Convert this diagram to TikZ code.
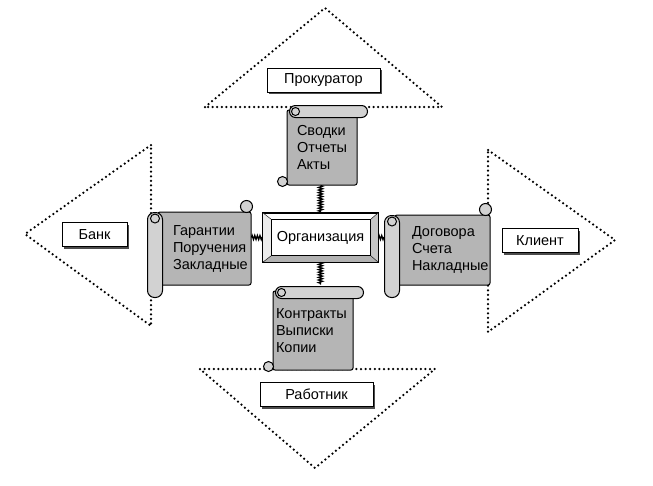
\documentclass[tikz,border=0pt]{standalone}
\usepackage{fontspec}
\setmainfont{Liberation Sans}
\usetikzlibrary{positioning,shadows,decorations.pathmorphing}
\hyphenpenalty=10000
\hbadness=10000
\hfuzz=40pt
\newcommand{\txtsize}{\fontsize{14.5}{17}\selectfont}
\tikzset{
  party/.style={draw, fill=white, line width=0.8pt, minimum height=24pt, font=\txtsize,
    drop shadow={shadow xshift=2.2pt, shadow yshift=-2.2pt, fill=black!70, opacity=1}},
  scroll/.style={draw, fill=gray!58, line width=1pt, rounded corners=2pt, align=left, font=\txtsize},
  roll/.style={draw, fill=gray!35, line width=1pt},
  tri/.style={line width=2.5pt, dash pattern=on 0pt off 4.6pt, line cap=round},
  coil/.style={line width=1.3pt, decorate, decoration={zigzag, segment length=2.6pt, amplitude=2pt}},
}
\begin{document}
\begin{tikzpicture}[x=1pt, y=-1pt]
  \useasboundingbox (0,0) rectangle (653,485);
  % dotted triangles
  \draw[tri] (205,107) -- (325,8) -- (442,107) -- cycle;
  \draw[tri] (151,145) -- (25,234) -- (151,326) -- cycle;
  \draw[tri] (488,150) -- (615,240) -- (488,332) -- cycle;
  \draw[tri] (200,369) -- (435,369) -- (315,468) -- cycle;
  % parties
  \node[party, minimum width=113pt] (prok) at (323.5,80) {Прокуратор};
  \node[party, minimum width=65pt] (bank) at (94.5,234.5) {Банк};
  \node[party, minimum width=76pt] (klient) at (540,240.5) {Клиент};
  \node[party, minimum width=113pt] (rabot) at (316.5,394.5) {Работник};
  % organisation with bevelled frame
  \node[draw, fill=white, line width=0.9pt, minimum width=115pt, minimum height=49pt, font=\txtsize] (org) at (320.5,237.5) {Организация};
  \coordinate (inw) at ([xshift=9pt,yshift=-7pt]org.north west);
  \coordinate (ine) at ([xshift=-8pt,yshift=-7pt]org.north east);
  \coordinate (ise) at ([xshift=-8pt,yshift=7pt]org.south east);
  \coordinate (isw) at ([xshift=9pt,yshift=7pt]org.south west);
  \fill[gray!15] (org.north west) -- (inw) -- (isw) -- (org.south west) -- cycle;
  \fill[gray!45] (org.north east) -- (ine) -- (ise) -- (org.south east) -- cycle;
  \fill[gray!60] (org.south west) -- (isw) -- (ise) -- (org.south east) -- cycle;
  \draw[line width=0.9pt] (org.north west) rectangle (org.south east);
  \draw[line width=0.9pt] (inw) rectangle (ise);
  \draw (org.north west) -- (inw) (org.north east) -- (ine)
        (org.south east) -- (ise) (org.south west) -- (isw);
  % scrolls
  \node[scroll, text width=50pt, inner xsep=10pt, minimum height=75pt] (svod) at (322,147.5) {Сводки\\Отчеты\\Акты};
  \node[scroll, text width=74pt, inner xsep=3pt, minimum height=79pt] (kontr) at (313,330.5) {Контракты\\Выписки\\Копии};
  \node[scroll, text width=63pt, inner xsep=15pt, minimum height=73pt] (garan) at (204.5,248.5) {Гарантии\\Поручения\\Закладные};
  \node[scroll, text width=61pt, inner xsep=17pt, minimum height=70pt] (dogov) at (442.5,250) {Договора\\Счета\\Накладные};
  \foreach \s in {svod,kontr}{
    \draw[roll, rounded corners=6pt] ([xshift=3pt,yshift=4pt]\s.north west) rectangle ([xshift=10pt,yshift=-8pt]\s.north east);
    \draw[roll] ([xshift=9pt,yshift=-2pt]\s.north west) circle (4pt);
    \draw[roll] ([xshift=-4pt,yshift=4pt]\s.south west) circle (5pt);
  }
  \foreach \s in {garan,dogov}{
    \draw[roll, rounded corners=7pt] ([xshift=-10pt,yshift=-1pt]\s.north west) rectangle ([xshift=5pt,yshift=-12pt]\s.south west);
    \draw[roll] ([xshift=-2.5pt,yshift=-7pt]\s.north west) circle (4.5pt);
    \draw[roll] ([xshift=-5pt,yshift=5pt]\s.north east) circle (6pt);
  }
  % connectors
  \coordinate (kr) at ([yshift=6pt]kontr.north);
  \coordinate (dr) at ([xshift=-10pt]dogov.west);
  \draw[coil] (svod.south -| org.north) -- (org.north);
  \draw[coil] (org.south) -- (org.south |- kr);
  \draw[coil] (garan.east |- org.west) -- (org.west);
  \draw[coil] (org.east) -- (org.east -| dr);
\end{tikzpicture}
\end{document}
